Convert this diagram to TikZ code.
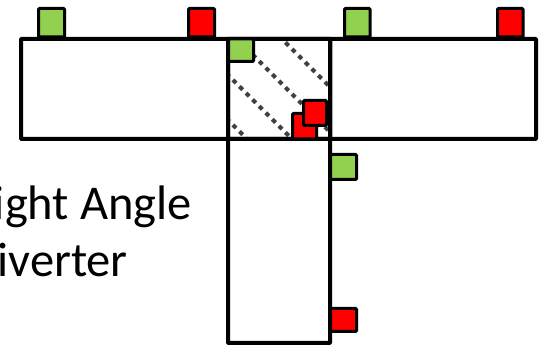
\documentclass[tikz,border=0pt]{standalone}
\usepackage{fontspec}
\setmainfont{Carlito}
\definecolor{sqgreen}{HTML}{92D050}
\definecolor{sqred}{HTML}{FF0000}
\definecolor{hatch}{HTML}{404040}
\begin{document}
\begin{tikzpicture}[x=1pt,y=-1pt,
  box/.style={draw=black,line width=4pt,fill=white,rounded corners=0.8pt},
  gsq/.style={draw=black,line width=3pt,fill=sqgreen,rounded corners=1pt},
  rsq/.style={draw=black,line width=3pt,fill=sqred,rounded corners=1pt},
  hatchline/.style={draw=hatch,line width=4pt,dash pattern=on 4.5pt off 4.8pt},
  lbl/.style={font=\fontsize{48.5}{58}\selectfont,inner sep=0pt,anchor=base east}]
\useasboundingbox (0,0) rectangle (544,347);
% text
\begin{scope}
  \clip (0,0) rectangle (544,347);
  \node[lbl] (t1) at (192,220) {Right Angle};
  \node[lbl] (t2) at (128,277) {Diverter};
\end{scope}
% small squares on top of the left and right boxes
\draw[gsq] (38.5,8.5) rectangle (64.5,37) coordinate (g1);
\draw[rsq] (188.5,8.5) rectangle (214.5,37) coordinate (r1);
\draw[gsq] (344.5,8.5) rectangle (370,37) coordinate (g2);
\draw[rsq] (497.5,8.5) rectangle (523,37) coordinate (r2);
% vertical side squares
\draw[gsq] (329,154.5) rectangle (356.5,179.5) coordinate (g4);
\draw[rsq] (329,308.5) rectangle (356.5,331.5) coordinate (r4);
% boxes
\draw[box] (21,39) rectangle (228,139) coordinate (leftbox);
\draw[box] (330,39) rectangle (536,139) coordinate (rightbox);
\draw[box] (228,139) rectangle (330,343) coordinate (vertbox);
\draw[box] (228,39) rectangle (330,139) coordinate (midbox);
% hatching
\begin{scope}
  \clip (230,41) rectangle (328,137);
  \foreach \c in {-243,-198,-153,-108}
    \draw[hatchline] (200,200+\c) -- (360,360+\c);
\end{scope}
\draw[box,fill=none] (228,39) rectangle (330,139);
% middle squares
\draw[gsq] (228.5,39) rectangle (253.5,61.5) coordinate (g3);
\draw[rsq] (292.5,113.5) rectangle (316.5,139) coordinate (r3a);
\draw[rsq] (303.5,100.5) rectangle (326.5,125.5) coordinate (r3b);
\end{tikzpicture}
\end{document}
